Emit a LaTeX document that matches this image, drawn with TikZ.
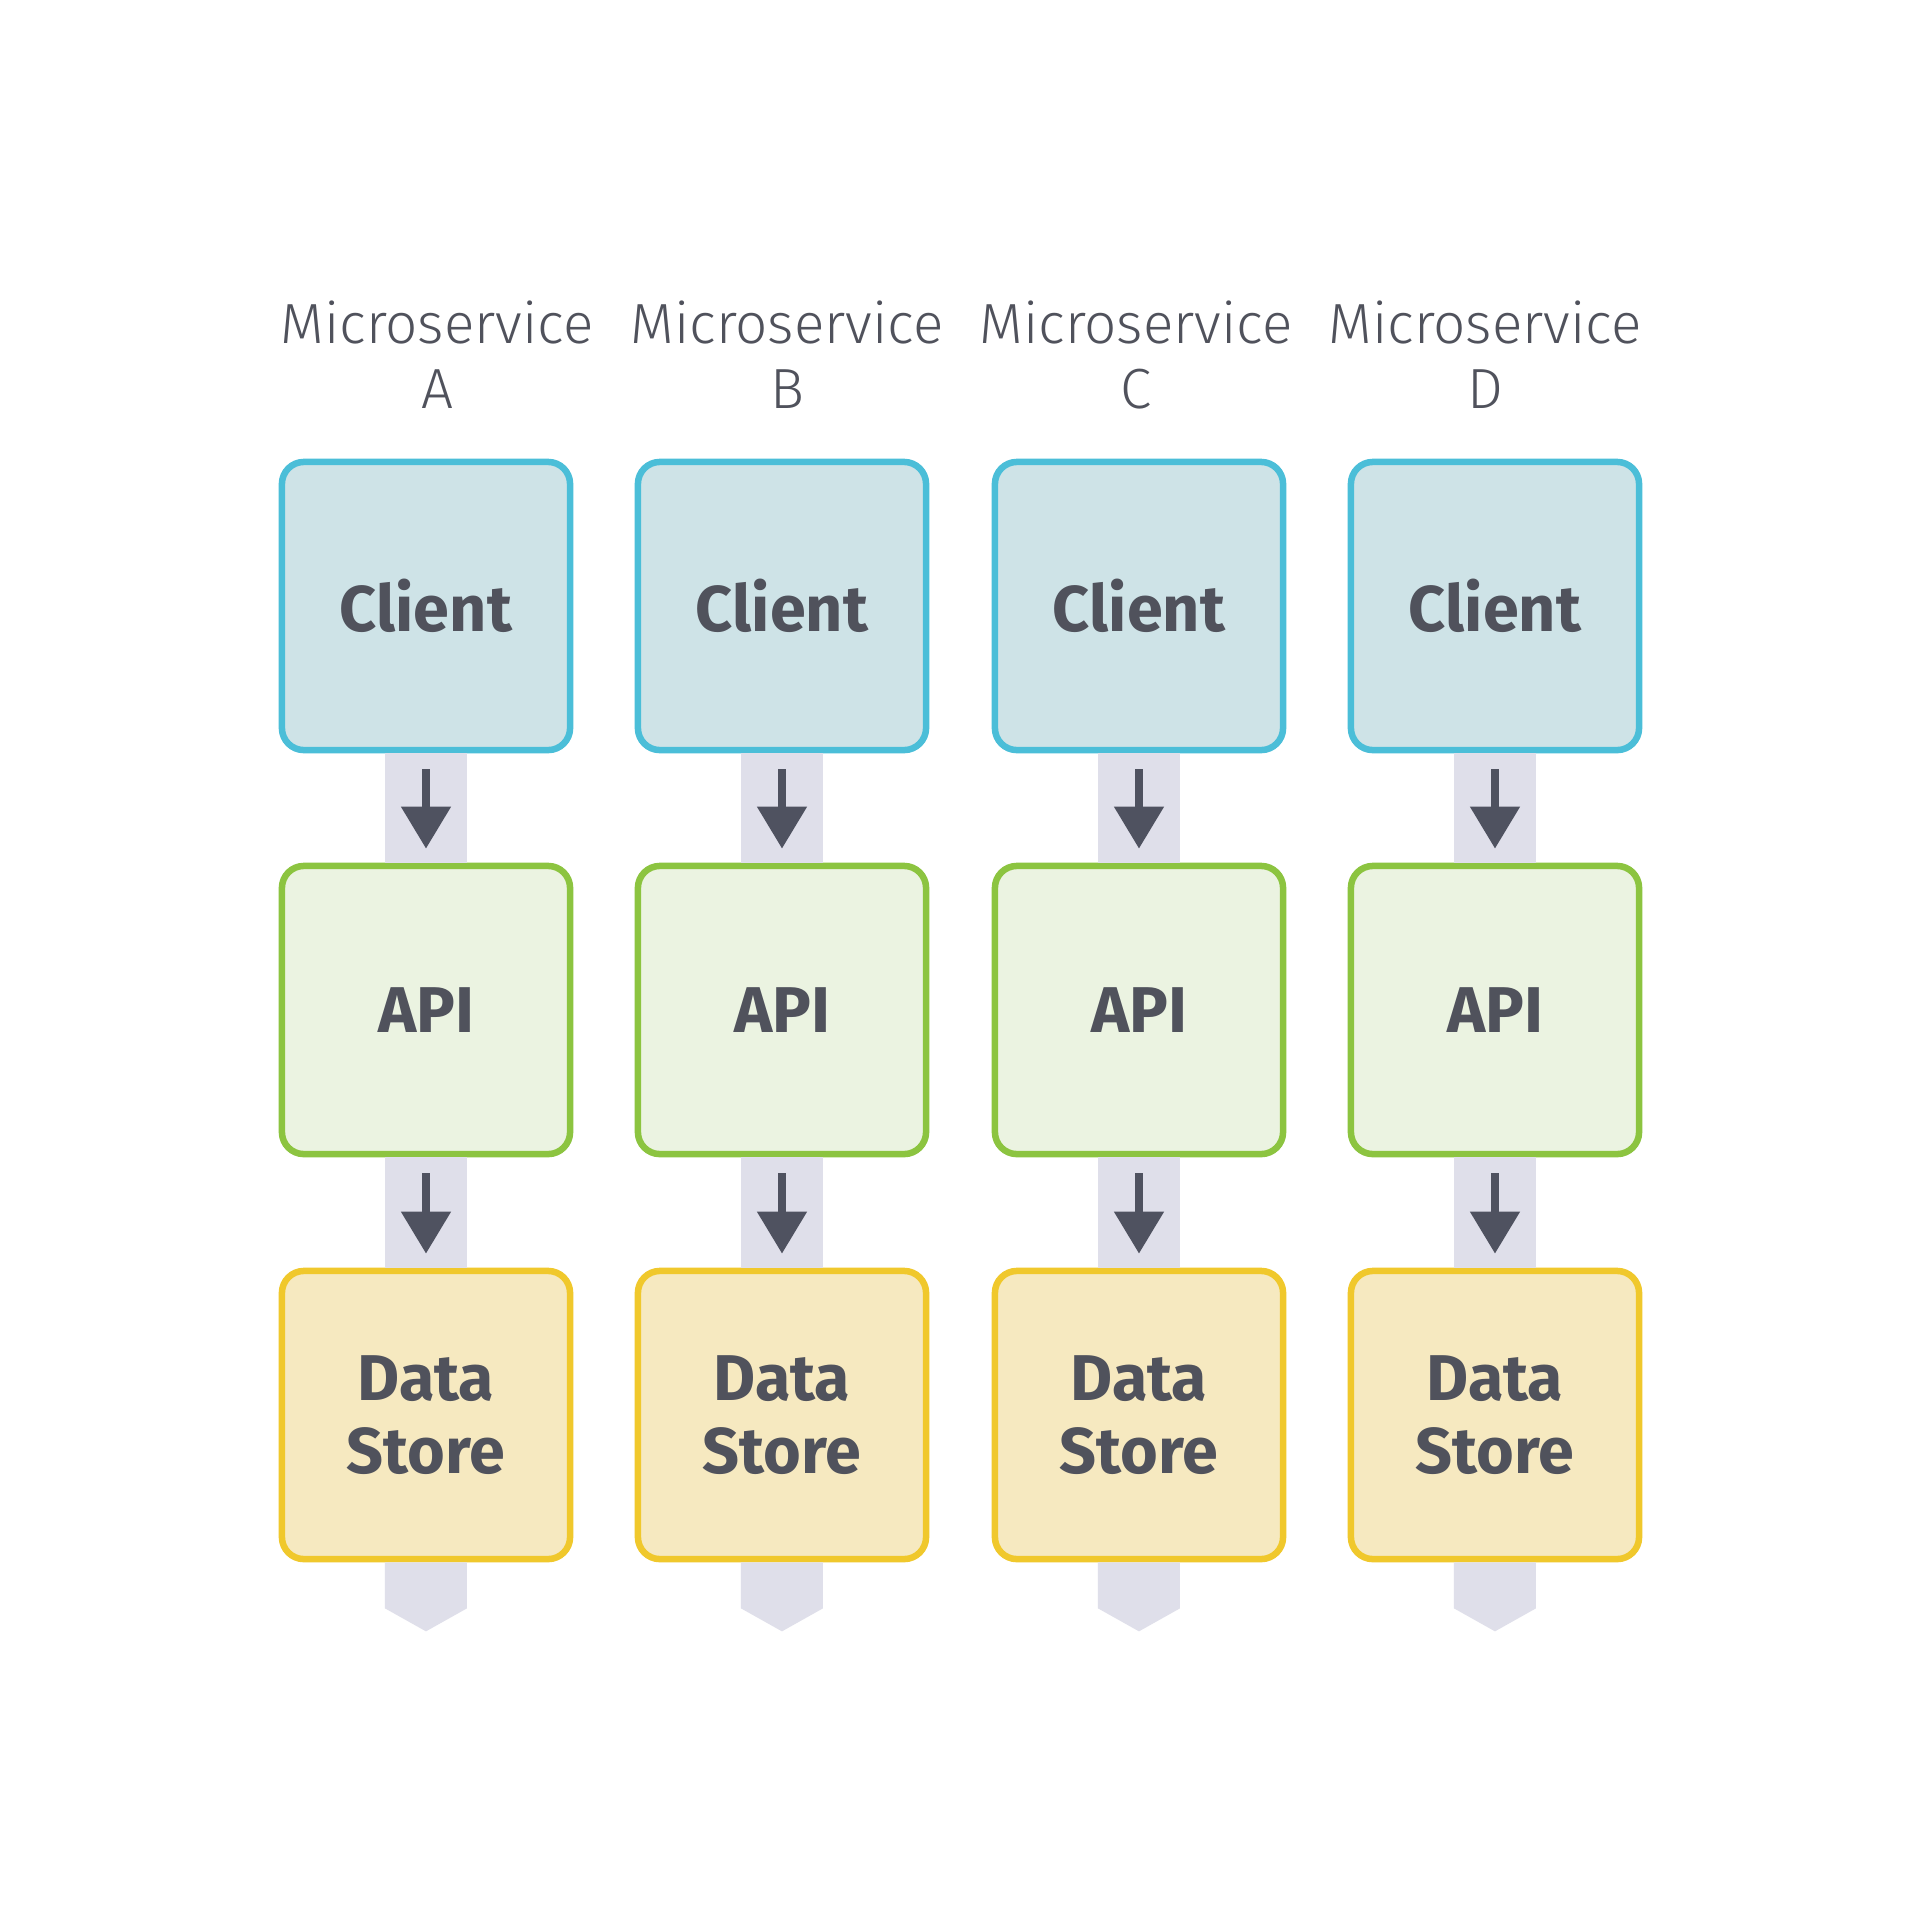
\documentclass[tikz,border=0pt]{standalone}
\usepackage{fontspec}
\setmainfont{Fira Sans}
\newfontfamily\headfont{Fira Sans Light}
\usetikzlibrary{arrows.meta}
\definecolor{TextGray}{RGB}{80,82,92}
\definecolor{ClientLine}{RGB}{75,190,216}
\definecolor{ClientFill}{RGB}{206,227,231}
\definecolor{ApiLine}{RGB}{140,196,64}
\definecolor{ApiFill}{RGB}{235,243,225}
\definecolor{StoreLine}{RGB}{240,200,44}
\definecolor{StoreFill}{RGB}{246,233,192}
\definecolor{StripGray}{RGB}{223,223,234}
\definecolor{ArrowGray}{RGB}{79,82,96}

\begin{document}
\begin{tikzpicture}[x=0.01cm,y=-0.01cm,
  box/.style={rounded corners=0.22cm,line width=0.065cm,minimum width=2.88cm,minimum height=2.88cm,
    inner sep=0pt,align=center,text=TextGray,font=\bfseries\fontsize{18.4}{20.8}\selectfont},
  client/.style={box,draw=ClientLine,fill=ClientFill},
  api/.style={box,draw=ApiLine,fill=ApiFill},
  store/.style={box,draw=StoreLine,fill=StoreFill},
  head/.style={align=center,text=TextGray,font=\headfont\fontsize{16.1}{18.5}\selectfont},
  strip/.style={fill=StripGray},
  flow/.style={ArrowGray,line width=0.08cm,shorten <=0.16cm,shorten >=0.14cm,
    -{Triangle[length=0.42cm,width=0.48cm]}}]
\useasboundingbox[fill=white] (0,0) rectangle (1920,1920);

\foreach \col/\x/\hx in {A/426/437,B/782/787,C/1139/1136,D/1495/1485} {
  \node[head] (h\col) at (\hx,355) {Microservice\\\col};
  \node[client] (cl\col) at (\x,606) {Client};
  \node[api] (ap\col) at (\x,1010) {API};
  \node[store] (ds\col) at (\x,1415) {Data\\Store};

  \fill[strip] ([xshift=-0.41cm]cl\col.south) rectangle ([xshift=0.41cm]ap\col.north);
  \fill[strip] ([xshift=-0.41cm]ap\col.south) rectangle ([xshift=0.41cm]ds\col.north);
  \fill[strip] ([xshift=-0.41cm]ds\col.south) -- ++(0,46) -- ++(41,23) -- ++(41,-23) -- ++(0,-46) -- cycle;

  \draw[flow] (cl\col.south) -- (ap\col.north);
  \draw[flow] (ap\col.south) -- (ds\col.north);
}
\end{tikzpicture}
\end{document}
